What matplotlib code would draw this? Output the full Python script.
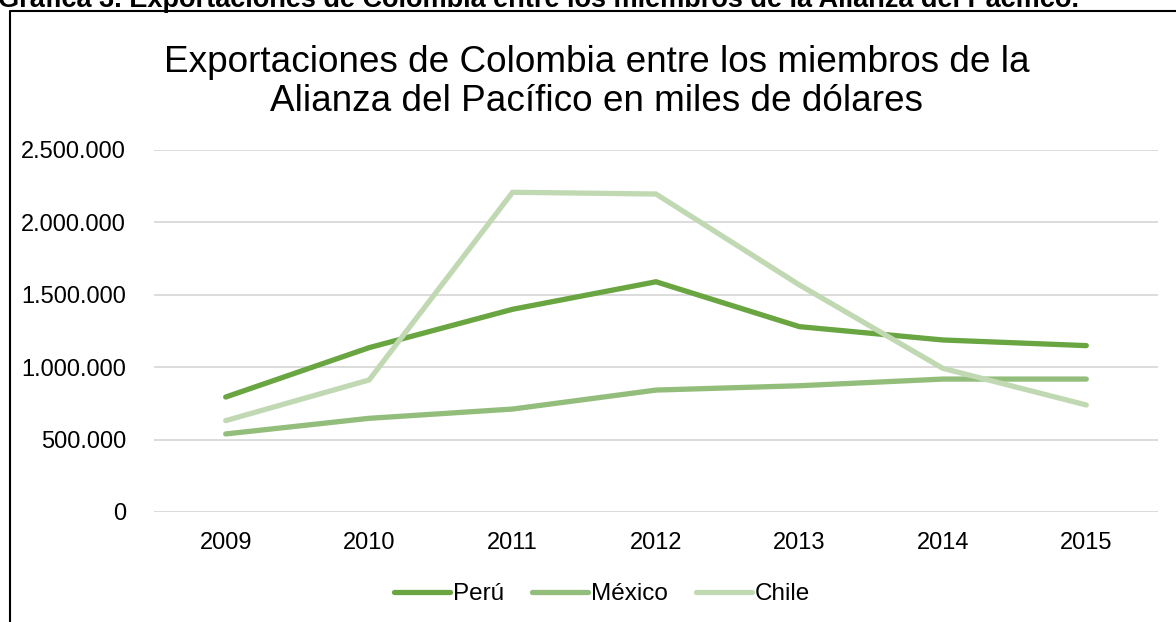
import matplotlib
matplotlib.use("Agg")
import matplotlib.pyplot as plt
from matplotlib.lines import Line2D
from matplotlib.ticker import FuncFormatter

years = ["2009", "2010", "2011", "2012", "2013", "2014", "2015"]
peru = [794000, 1135000, 1400000, 1590000, 1280000, 1188000, 1149000]
mexico = [539000, 647000, 711000, 842000, 872000, 918000, 918000]
chile = [631000, 912000, 2208000, 2196000, 1568000, 992000, 739000]
series_names = ["Perú", "México", "Chile"]
colors = ["#69a541", "#93bd7b", "#c0d9b3"]

plt.rcParams['font.family'] = ['Liberation Sans', 'DejaVu Sans']

W, H = 1176, 622
fig = plt.figure(figsize=(W / 100, H / 100), dpi=100)
ax = fig.add_axes([154 / W, (H - 512) / H, 1004 / W, 362 / H])

x = list(range(len(years)))
for vals, name, c in zip([peru, mexico, chile], series_names, colors):
    ax.plot(x, vals, color=c, lw=3.8, label=name, solid_capstyle='round',
            solid_joinstyle='miter')

ax.set_xlim(-0.5, len(years) - 0.5)
ax.set_ylim(0, 2500000)
ax.set_yticks([0, 500000, 1000000, 1500000, 2000000, 2500000])
ax.yaxis.set_major_formatter(FuncFormatter(lambda v, p: f"{int(v):,}".replace(",", ".")))
ax.set_xticks(x)
ax.set_xticklabels(years)
ax.tick_params(axis='both', length=0, labelsize=17, colors='#000000')
ax.tick_params(axis='y', pad=20)
ax.tick_params(axis='x', pad=14.5)
ax.grid(axis='y', color='#d9d9d9', lw=1.3)
ax.set_axisbelow(True)
for s in ax.spines.values():
    s.set_visible(False)

# legend
leg = fig.legend(loc='center', bbox_to_anchor=(602 / W, 1 - 594 / H), ncol=3,
                 frameon=False, fontsize=17.5, handlelength=2.3, handletextpad=0.12,
                 columnspacing=1.15)
for h in leg.get_lines():
    h.set_linewidth(3.8)
    h.set_solid_capstyle('round')

# chart title
fig.text(597 / W, 1 - 82 / H,
         "Exportaciones de Colombia entre los miembros de la\nAlianza del Pacífico en miles de dólares",
         ha='center', va='center', fontsize=26.6, linespacing=1.13)

# cut-off caption at top
fig.text(-2 / W, 1 - 7 / H,
         "Gráfica 3. Exportaciones de Colombia entre los miembros de la Alianza del Pacífico.",
         ha='left', va='baseline', fontsize=19.5, fontweight='bold')

# chart frame (left and top edges visible)
fig.add_artist(Line2D([10 / W, 10 / W, 1.01], [-0.01, 1 - 11 / H, 1 - 11 / H],
                      transform=fig.transFigure, color='black', lw=1.5))

fig.savefig("out.png", dpi=100, facecolor='white')
